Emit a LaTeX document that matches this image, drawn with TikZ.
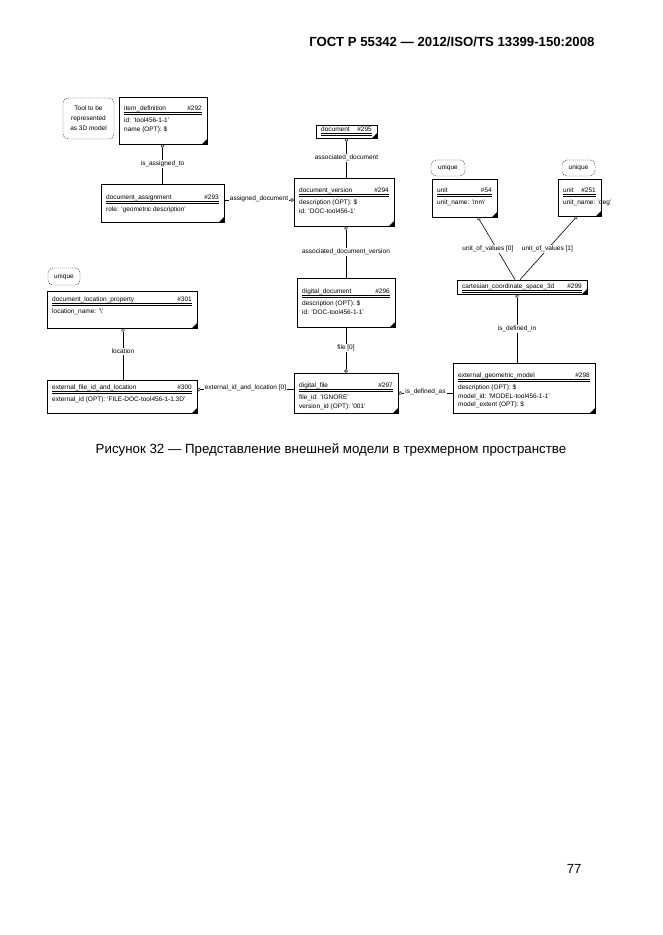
\documentclass[tikz,border=0pt]{standalone}
\usepackage{fontspec}
\setmainfont{Liberation Sans}
\usetikzlibrary{arrows.meta,positioning,calc}

\tikzset{
  entbox/.style={draw, line width=0.7pt, inner sep=0pt},
  enttext/.style={inner sep=0pt, font=\fontsize{6.5}{8.5}\selectfont},
  notebox/.style={draw, dash pattern=on 1pt off 1pt, rounded corners=5pt, inner sep=0pt,
    align=center, font=\fontsize{6.5}{10}\selectfont},
  rel/.style={line width=0.6pt, -{Circle[open, length=3.5pt, line width=0.5pt]}},
  rellabel/.style={fill=white, inner sep=1pt, font=\fontsize{6.5}{8}\selectfont},
}

% entity box: [header offset]{name}{x1}{y1}{x2}{y2}{title}{number}{attributes}
\newcommand{\entity}[9][12]{%
  \node[entbox, minimum width={(#5-#3)*1pt}, minimum height={(#6-#4)*1pt}] (#2) at ({(#3+#5)/2},{(#4+#6)/2}) {};
  \node[enttext, anchor=base west] at (#3+5,#4+#1) {#7};
  \node[enttext, anchor=base east] at (#5-5,#4+#1) {#8};
  \draw[line width=0.4pt] (#3+5,#4+#1+2.5) -- (#5-5,#4+#1+2.5);
  \draw[line width=0.4pt] (#3+5,#4+#1+4) -- (#5-5,#4+#1+4);
  \foreach \attr [count=\k] in {#9}
    \node[enttext, anchor=base west] at (#3+5,#4+#1+4+8.5*\k) {\attr};
  \fill (#5-5,#6) -- (#5,#6) -- (#5,#6-5) -- cycle;
}

\begin{document}
\begin{tikzpicture}[x=1pt, y=-1pt]
    \useasboundingbox (0,0) rectangle (662,935);

    % page header, caption and page number
    \node[anchor=base east, font=\bfseries\fontsize{13.2}{15}\selectfont] (gost) at (598,46) {ГОСТ Р 55342 — 2012/ISO/TS 13399-150:2008};
    \node[anchor=base, font=\fontsize{13.3}{15}\selectfont] (caption) at (331,453) {Рисунок 32 — Представление внешней модели в трехмерном пространстве};
    \node[anchor=base east, font=\fontsize{13.2}{15}\selectfont] (pagenum) at (585,873) {77};

    % notes
    \node[notebox, minimum width=51pt, minimum height=41pt] (toolnote) at (88.5,118.5) {Tool to be\\represented\\as 3D model};
    \node[notebox, minimum width=32pt, minimum height=17pt] (uniqueloc) at (64,276.5) {unique};
    \node[notebox, minimum width=34pt, minimum height=16pt] (uniquemm) at (448,168) {unique};
    \node[notebox, minimum width=33pt, minimum height=16pt] (uniquedeg) at (578.5,168) {unique};

    % entities
    \entity[13]{itemdef}{119}{97}{207}{144}{item\_definition}{\#292}{id: 'tool456-1-1', name (OPT): \$}
    \entity[15]{docassign}{101}{184}{224}{222}{document\_assignment}{\#293}{role: 'geometric description'}
    \entity[6]{document}{316}{125}{377}{138}{document}{\#295}{}
    \entity[14]{docver}{294}{178}{394}{226}{document\_version}{\#294}{description (OPT): \$, id: 'DOC-tool456-1'}
    \entity[15]{digdoc}{297}{278}{395}{327}{digital\_document}{\#296}{description (OPT): \$, id: 'DOC-tool456-1-1'}
    \entity[14]{digfile}{294}{373}{398}{413}{digital\_file}{\#297}{file\_id: 'IGNORE', version\_id (OPT): '001'}
    \entity[9]{extfile}{47}{380}{197}{413}{external\_file\_id\_and\_location}{\#300}{external\_id (OPT): 'FILE-DOC-tool456-1-1.3D'}
    \entity[10]{docloc}{47}{291}{197}{328}{document\_location\_property}{\#301}{location\_name: '\textbackslash'}
    \entity[13]{unitmm}{432}{179}{497}{217}{unit}{\#54}{unit\_name: 'mm'}
    \entity[13]{unitdeg}{558}{179}{601}{216}{unit}{\#251}{unit\_name: 'deg'}
    \entity[8]{cartesian}{457}{280}{587}{294}{cartesian\_coordinate\_space\_3d}{\#299}{}
    \entity[14]{extgeo}{453}{363}{595}{413}{external\_geometric\_model}{\#298}{description (OPT): \$, model\_id: 'MODEL-tool456-1-1', model\_extent (OPT): \$}

    % relations
    \draw[rel] (docassign.north) -- node[rellabel] {is\_assigned\_to} (docassign.north |- itemdef.south);
    \draw[rel] (document.south |- docver.north) -- node[rellabel] {associated\_document} (document.south);
    \draw[rel] ([yshift=3pt]docassign.east) -- node[rellabel, anchor=base] {assigned\_document} ([yshift=3pt]docassign.east -| docver.west);
    \draw[rel] (digdoc.north) -- node[rellabel] {associated\_document\_version} (digdoc.north |- docver.south);
    \draw[rel] (digdoc.south) -- node[rellabel, pos=0.45] {file [0]} (digfile.north);
    \draw[rel] ([xshift=1pt]extfile.north) -- node[rellabel, pos=0.55] {location} ([xshift=1pt]extfile.north |- docloc.south);
    \draw[rel] ([yshift=3.5pt]digfile.west) -- node[rellabel, anchor=base] {external\_id\_and\_location [0]} ([yshift=3.5pt]digfile.west -| extfile.east);
    \draw[rel] ([yshift=-5pt]extgeo.west) -- node[rellabel, anchor=base] {is\_defined\_as} ([yshift=-5pt]extgeo.west -| digfile.east);
    \draw[rel] ([xshift=-7pt]cartesian.north) -- node[rellabel, pos=0.49, xshift=-9pt] {unit\_of\_values [0]} ([xshift=13.5pt]unitmm.south);
    \draw[rel] ([xshift=-2pt]cartesian.north) -- node[rellabel, pos=0.48, xshift=0pt] {unit\_of\_values [1]} ([xshift=-2.5pt]unitdeg.south);
    \draw[rel] ([xshift=-7pt]extgeo.north) -- node[rellabel] {is\_defined\_in} ([xshift=-7pt]extgeo.north |- cartesian.south);
\end{tikzpicture}
\end{document}
